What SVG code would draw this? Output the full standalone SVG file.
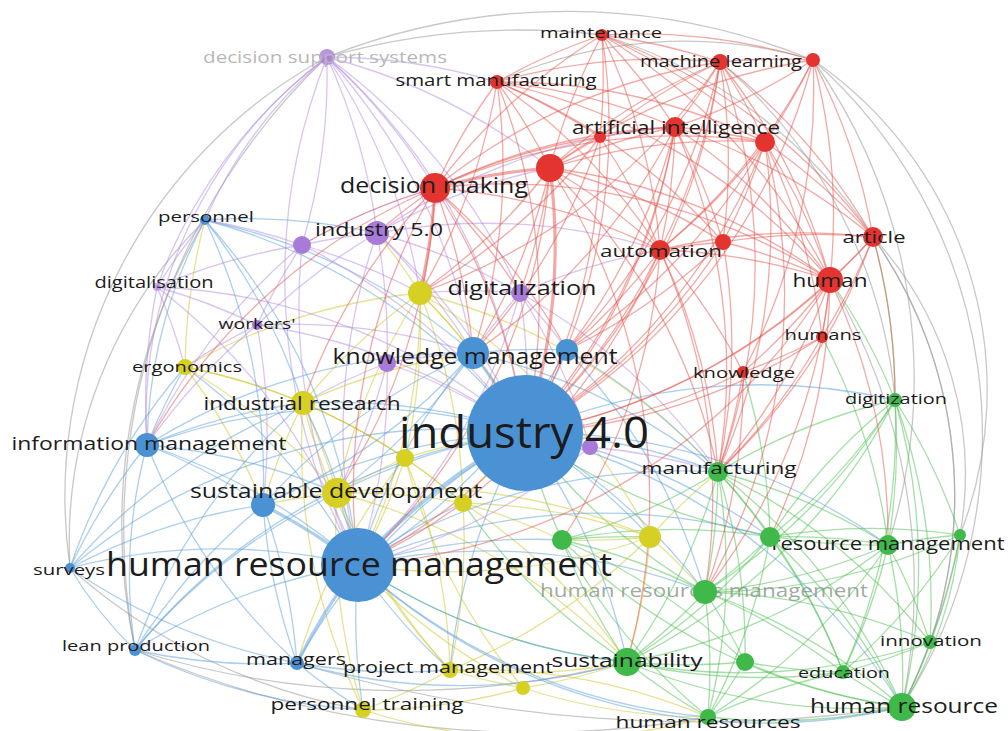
<svg xmlns="http://www.w3.org/2000/svg" width="1008" height="731" viewBox="0 0 1008 731">
<style>
  .edges g{fill:none;stroke-width:1.3;stroke-linecap:round}
  .r{stroke:#e5534b;stroke-opacity:.5}
  .p{stroke:#b48be0;stroke-opacity:.5}
  .b{stroke:#5aa0dc;stroke-opacity:.5}
  .y{stroke:#d3cb3a;stroke-opacity:.55}
  .g{stroke:#4cc050;stroke-opacity:.5}
  .a{stroke:#9a9a9a;stroke-opacity:.55}
  .thick{stroke-width:3.2}
  .nr{fill:#e3342f}
  .np{fill:#a97bd8}
  .nb{fill:#4b92d4}
  .ny{fill:#d6d024}
  .ng{fill:#3fb94a}
  text{font-family:"Open Sans","Noto Sans","Liberation Sans",sans-serif;fill:#1c1c1c;text-anchor:middle;dominant-baseline:central}
  .faint{fill:#b8b8b8}
  .dim{fill:#7d9180;fill-opacity:.75}
</style>
<rect width="1008" height="731" fill="#fff"/>
<g class="edges" id="connectors">
 <g class="a">
  <path d="M327 57A650 650 0 0 1 813 60"/>
  <path d="M497 82A450 450 0 0 1 813 60"/>
  <path d="M602 35A500 500 0 0 1 873 237"/>
  <path d="M813 60A400 400 0 0 1 960 535"/>
  <path d="M813 60A500 500 0 0 1 902 707"/>
  <path d="M873 237A450 450 0 0 1 902 707"/>
  <path d="M873 237A350 350 0 0 1 960 535"/>
  <path d="M873 237A450 450 0 0 1 930 642"/>
  <path d="M830 280A600 600 0 0 1 902 707"/>
  <path d="M720 62A500 500 0 0 1 895 400"/>
  <path d="M813 60A550 550 0 0 1 888 545"/>
  <path d="M708 717A1000 1000 0 0 1 135 650"/>
  <path d="M627 662A900 900 0 0 1 135 650"/>
  <path d="M363 710A600 600 0 0 1 70 568"/>
  <path d="M902 707A1400 1400 0 0 1 297 663"/>
  <path d="M135 650A650 650 0 0 1 327 57"/>
  <path d="M70 568A500 500 0 0 1 327 57"/>
  <path d="M70 568A450 450 0 0 1 205 220"/>
  <path d="M135 650A600 600 0 0 1 205 220"/>
  <path d="M327 57A700 700 0 0 1 602 35"/>
  <path d="M960 535A600 600 0 0 1 902 707"/>
 </g>
 <g class="g">
  <path d="M718 472A600 600 0 0 1 770 537"/>
  <path d="M718 472A600 600 0 0 1 888 545"/>
  <path d="M718 472A600 600 0 0 1 705 592"/>
  <path d="M718 472A600 600 0 0 1 627 662"/>
  <path d="M718 472A600 600 0 0 1 895 400"/>
  <path d="M718 472A600 600 0 0 1 562 540"/>
  <path d="M718 472A600 600 0 0 1 745 662"/>
  <path d="M718 472A600 600 0 0 1 902 707"/>
  <path d="M718 472A600 600 0 0 1 930 642"/>
  <path d="M718 472A600 600 0 0 1 843 672"/>
  <path d="M770 537A600 600 0 0 1 888 545"/>
  <path d="M770 537A600 600 0 0 1 705 592"/>
  <path d="M770 537A600 600 0 0 1 627 662"/>
  <path d="M770 537A600 600 0 0 1 902 707"/>
  <path d="M770 537A600 600 0 0 1 843 672"/>
  <path d="M770 537A600 600 0 0 1 960 535"/>
  <path d="M770 537A600 600 0 0 1 895 400"/>
  <path d="M770 537A600 600 0 0 1 708 717"/>
  <path d="M888 545A600 600 0 0 1 960 535"/>
  <path d="M888 545A600 600 0 0 1 930 642"/>
  <path d="M888 545A600 600 0 0 1 902 707"/>
  <path d="M895 400A600 600 0 0 1 888 545"/>
  <path d="M888 545A600 600 0 0 1 705 592"/>
  <path d="M888 545A600 600 0 0 1 843 672"/>
  <path d="M888 545A600 600 0 0 1 627 662"/>
  <path d="M888 545A600 600 0 0 1 708 717"/>
  <path d="M960 535A600 600 0 0 1 930 642"/>
  <path d="M960 535A400 400 0 0 1 902 707"/>
  <path d="M895 400A600 600 0 0 1 960 535"/>
  <path d="M960 535A600 600 0 0 1 705 592"/>
  <path d="M960 535A600 600 0 0 1 843 672"/>
  <path d="M705 592A600 600 0 0 1 627 662"/>
  <path d="M705 592A600 600 0 0 1 745 662"/>
  <path d="M705 592A600 600 0 0 1 843 672"/>
  <path d="M705 592A600 600 0 0 1 902 707"/>
  <path d="M705 592A600 600 0 0 1 708 717"/>
  <path d="M562 540A600 600 0 0 1 705 592"/>
  <path d="M705 592A600 600 0 0 1 930 642"/>
  <path d="M745 662A600 600 0 0 1 627 662"/>
  <path d="M708 717A600 600 0 0 1 627 662"/>
  <path d="M627 662A600 600 0 0 1 562 540"/>
  <path d="M902 707A600 600 0 0 1 627 662"/>
  <path d="M843 672A600 600 0 0 1 627 662"/>
  <path d="M930 642A600 600 0 0 1 627 662"/>
  <path d="M843 672A600 600 0 0 1 745 662"/>
  <path d="M902 707A600 600 0 0 1 745 662"/>
  <path d="M745 662A600 600 0 0 1 708 717"/>
  <path d="M930 642A600 600 0 0 1 843 672"/>
  <path d="M902 707A600 600 0 0 1 843 672"/>
  <path d="M930 642A600 600 0 0 1 902 707"/>
  <path d="M895 400A600 600 0 0 1 930 642"/>
  <path d="M902 707A600 600 0 0 1 708 717"/>
  <path d="M830 280A600 600 0 0 1 895 400"/>
  <path d="M873 237A600 600 0 0 1 895 400"/>
  <path d="M562 540A600 600 0 0 1 770 537"/>
  <path d="M708 717A600 600 0 0 1 562 540"/>
  <path d="M895 400A600 600 0 0 1 705 592"/>
  <path d="M895 400A600 600 0 0 1 902 707"/>
  <path d="M902 707A600 600 0 0 1 562 540"/>
  <path d="M895 400A600 600 0 0 1 627 662"/>
  <path d="M562 540A600 600 0 0 1 525 433"/>
  <path d="M822 337A600 600 0 0 1 888 545"/>
  <path d="M743 372A600 600 0 0 1 770 537"/>
  <path d="M562 540A600 600 0 0 1 745 662"/>
  <path d="M708 717A600 600 0 0 1 843 672"/>
  <path d="M895 400A600 600 0 0 1 770 537"/>
  <path d="M627 662A600 600 0 0 1 463 503"/>
  <path d="M705 592A600 600 0 0 1 525 433"/>
  <path d="M718 472A600 600 0 0 1 708 717"/>
  <path d="M888 545A600 600 0 0 1 525 433"/>
  <path d="M562 540A600 600 0 0 1 650 537"/>
  <path d="M627 662A600 600 0 0 1 358 565"/>
  <path d="M895 400A600 600 0 0 1 843 672"/>
 </g>
 <g class="y">
  <path d="M420 293A600 600 0 0 1 473 353"/>
  <path d="M303 403A600 600 0 0 1 420 293"/>
  <path d="M337 493A600 600 0 0 1 420 293"/>
  <path d="M420 293A600 600 0 0 1 525 433"/>
  <path d="M185 367A600 600 0 0 1 420 293"/>
  <path d="M420 293A600 600 0 0 1 405 458"/>
  <path d="M420 293A600 600 0 0 1 358 565"/>
  <path d="M185 367A600 600 0 0 1 303 403"/>
  <path d="M185 367A600 600 0 0 1 337 493"/>
  <path d="M303 403A600 600 0 0 1 337 493"/>
  <path d="M303 403A600 600 0 0 1 405 458"/>
  <path d="M303 403A600 600 0 0 1 473 353"/>
  <path d="M303 403A600 600 0 0 1 463 503"/>
  <path d="M337 493A600 600 0 0 1 405 458"/>
  <path d="M405 458A600 600 0 0 1 525 433"/>
  <path d="M405 458A600 600 0 0 1 358 565"/>
  <path d="M337 493A600 600 0 0 1 463 503"/>
  <path d="M450 670A600 600 0 0 1 337 493"/>
  <path d="M363 710A600 600 0 0 1 337 493"/>
  <path d="M337 493A600 600 0 0 1 650 537"/>
  <path d="M463 503A600 600 0 0 1 525 433"/>
  <path d="M463 503A600 600 0 0 1 650 537"/>
  <path d="M463 503A600 600 0 0 1 627 662"/>
  <path d="M463 503A600 600 0 0 1 450 670"/>
  <path d="M650 537A600 600 0 0 1 705 592"/>
  <path d="M650 537A600 600 0 0 1 627 662"/>
  <path d="M650 537A600 600 0 0 1 450 670"/>
  <path d="M650 537A600 600 0 0 1 718 472"/>
  <path d="M450 670A600 600 0 0 1 363 710"/>
  <path d="M627 662A600 600 0 0 1 450 670"/>
  <path d="M523 688A600 600 0 0 1 450 670"/>
  <path d="M627 662A600 600 0 0 1 523 688"/>
  <path d="M708 717A600 600 0 0 1 523 688"/>
  <path d="M708 717A600 600 0 0 1 363 710"/>
  <path d="M523 688A600 600 0 0 1 363 710"/>
  <path d="M523 688A600 600 0 0 1 358 565"/>
  <path d="M363 710A600 600 0 0 1 303 403"/>
  <path d="M450 670A600 600 0 0 1 303 403"/>
  <path d="M650 537A600 600 0 0 1 358 565"/>
  <path d="M185 367A600 600 0 0 1 205 220"/>
  <path d="M377 233A600 600 0 0 1 420 293"/>
  <path d="M420 293A600 600 0 0 1 650 537"/>
  <path d="M405 458A600 600 0 0 1 450 670"/>
  <path d="M463 503A600 600 0 0 1 562 540"/>
  <path d="M523 688A600 600 0 0 1 405 458"/>
  <path d="M297 663A600 600 0 0 1 405 458"/>
  <path d="M420 293A600 600 0 0 1 463 503"/>
  <path d="M405 458A600 600 0 0 1 463 503"/>
  <path d="M263 505A600 600 0 0 1 337 493"/>
  <path d="M263 505A600 600 0 0 1 303 403"/>
  <path d="M185 367A600 600 0 0 1 263 505"/>
  <path d="M450 670A600 600 0 0 1 708 717"/>
  <path d="M650 537A600 600 0 0 1 562 540"/>
  <path d="M420 293A600 600 0 0 1 718 472"/>
  <path d="M337 493A600 600 0 0 1 627 662"/>
  <path d="M185 367A600 600 0 0 1 405 458"/>
 </g>
 <g class="b">
  <path d="M358 565A600 600 0 0 1 525 433" stroke-width="4"/>
  <path class="thick" d="M473 353A600 600 0 0 1 525 433"/>
  <path d="M567 350A600 600 0 0 1 525 433"/>
  <path d="M147 445A600 600 0 0 1 525 433"/>
  <path d="M263 505A600 600 0 0 1 525 433"/>
  <path d="M525 433A600 600 0 0 1 718 472"/>
  <path d="M525 433A600 600 0 0 1 705 592"/>
  <path d="M337 493A600 600 0 0 1 525 433"/>
  <path d="M303 403A600 600 0 0 1 525 433"/>
  <path d="M525 433A600 600 0 0 1 627 662"/>
  <path d="M525 433A600 600 0 0 1 888 545"/>
  <path d="M525 433A600 600 0 0 1 895 400"/>
  <path d="M297 663A600 600 0 0 1 525 433"/>
  <path d="M525 433A600 600 0 0 1 650 537"/>
  <path d="M525 433A600 600 0 0 1 770 537"/>
  <path d="M525 433A600 600 0 0 1 902 707"/>
  <path d="M205 220A600 600 0 0 1 525 433"/>
  <path d="M450 670A600 600 0 0 1 525 433"/>
  <path d="M70 568A600 600 0 0 1 525 433"/>
  <path d="M135 650A600 600 0 0 1 525 433"/>
  <path d="M358 565A600 600 0 0 1 473 353"/>
  <path d="M147 445A600 600 0 0 1 358 565"/>
  <path class="thick" d="M263 505A600 600 0 0 1 358 565"/>
  <path d="M70 568A600 600 0 0 1 358 565"/>
  <path d="M135 650A600 600 0 0 1 358 565"/>
  <path class="thick" d="M297 663A600 600 0 0 1 358 565"/>
  <path d="M337 493A600 600 0 0 1 358 565"/>
  <path d="M303 403A600 600 0 0 1 358 565"/>
  <path d="M358 565A600 600 0 0 1 705 592"/>
  <path d="M627 662A600 600 0 0 1 358 565"/>
  <path d="M450 670A600 600 0 0 1 358 565"/>
  <path d="M363 710A600 600 0 0 1 358 565"/>
  <path d="M358 565A600 600 0 0 1 770 537"/>
  <path d="M902 707A600 600 0 0 1 358 565"/>
  <path d="M185 367A600 600 0 0 1 358 565"/>
  <path d="M205 220A600 600 0 0 1 358 565"/>
  <path d="M358 565A600 600 0 0 1 562 540"/>
  <path d="M358 565A600 600 0 0 1 718 472"/>
  <path d="M358 565A600 600 0 0 1 463 503"/>
  <path d="M708 717A600 600 0 0 1 358 565"/>
  <path d="M147 445A500 500 0 0 1 205 220"/>
  <path d="M205 220A600 600 0 0 1 473 353"/>
  <path d="M147 445A600 600 0 0 1 263 505"/>
  <path d="M70 568A600 600 0 0 1 147 445"/>
  <path d="M147 445A600 600 0 0 1 303 403"/>
  <path d="M135 650A500 500 0 0 1 147 445"/>
  <path d="M147 445A600 600 0 0 1 185 367"/>
  <path d="M297 663A600 600 0 0 1 147 445"/>
  <path d="M70 568A600 600 0 0 1 263 505"/>
  <path d="M135 650A600 600 0 0 1 263 505"/>
  <path d="M297 663A600 600 0 0 1 263 505"/>
  <path d="M135 650A400 400 0 0 1 70 568"/>
  <path d="M297 663A600 600 0 0 1 70 568"/>
  <path d="M297 663A600 600 0 0 1 135 650"/>
  <path d="M363 710A600 600 0 0 1 135 650"/>
  <path d="M363 710A600 600 0 0 1 297 663"/>
  <path d="M450 670A600 600 0 0 1 297 663"/>
  <path d="M627 662A600 600 0 0 1 297 663"/>
  <path d="M473 353A600 600 0 0 1 567 350"/>
  <path d="M567 350A600 600 0 0 1 358 565"/>
  <path d="M147 445A600 600 0 0 1 473 353"/>
  <path d="M205 220A600 600 0 0 1 377 233"/>
  <path d="M205 220A600 600 0 0 1 263 505"/>
  <path d="M70 568A600 600 0 0 1 185 367"/>
  <path d="M135 650A600 600 0 0 1 303 403"/>
  <path d="M263 505A600 600 0 0 1 473 353"/>
  <path d="M263 505A600 600 0 0 1 297 663"/>
  <path d="M473 353A600 600 0 0 1 718 472"/>
  <path d="M567 350A600 600 0 0 1 718 472"/>
  <path d="M473 353A600 600 0 0 1 337 493"/>
  <path d="M567 350A600 600 0 0 1 705 592"/>
  <path d="M147 445A600 600 0 0 1 337 493"/>
  <path d="M205 220A600 600 0 0 1 303 403"/>
  <path d="M473 353A600 600 0 0 1 263 505"/>
  <path d="M70 568A600 600 0 0 1 303 403"/>
  <path d="M135 650A600 600 0 0 1 337 493"/>
 </g>
 <g class="p">
  <path d="M327 57A600 600 0 0 1 435 188"/>
  <path d="M327 57A600 600 0 0 1 377 233"/>
  <path d="M327 57A600 600 0 0 1 302 245"/>
  <path d="M205 220A450 450 0 0 1 327 57"/>
  <path d="M147 445A450 450 0 0 1 327 57"/>
  <path d="M157 287A500 500 0 0 1 327 57"/>
  <path d="M327 57A600 600 0 0 1 420 293"/>
  <path d="M327 57A600 600 0 0 1 525 433"/>
  <path d="M327 57A600 600 0 0 1 473 353"/>
  <path d="M327 57A600 600 0 0 1 497 82"/>
  <path d="M327 57A600 600 0 0 1 550 168"/>
  <path d="M358 565A600 600 0 0 1 327 57"/>
  <path d="M327 57A600 600 0 0 1 520 293"/>
  <path d="M302 245A600 600 0 0 1 377 233"/>
  <path d="M377 233A600 600 0 0 1 525 433"/>
  <path d="M377 233A600 600 0 0 1 473 353"/>
  <path d="M377 233A600 600 0 0 1 520 293"/>
  <path d="M358 565A600 600 0 0 1 377 233"/>
  <path d="M377 233A600 600 0 0 1 550 168"/>
  <path d="M377 233A600 600 0 0 1 660 250"/>
  <path d="M377 233A600 600 0 0 1 387 363"/>
  <path d="M377 233A600 600 0 0 1 675 127"/>
  <path d="M205 220A600 600 0 0 1 302 245"/>
  <path d="M157 287A600 600 0 0 1 302 245"/>
  <path d="M147 445A600 600 0 0 1 302 245"/>
  <path d="M302 245A600 600 0 0 1 525 433"/>
  <path d="M302 245A600 600 0 0 1 420 293"/>
  <path d="M358 565A600 600 0 0 1 302 245"/>
  <path d="M520 293A600 600 0 0 1 525 433"/>
  <path d="M473 353A600 600 0 0 1 520 293"/>
  <path d="M520 293A600 600 0 0 1 660 250"/>
  <path d="M420 293A600 600 0 0 1 520 293"/>
  <path d="M520 293A600 600 0 0 1 718 472"/>
  <path d="M520 293A600 600 0 0 1 567 350"/>
  <path d="M520 293A600 600 0 0 1 358 565"/>
  <path d="M157 287A600 600 0 0 1 257 325"/>
  <path d="M147 445A600 600 0 0 1 257 325"/>
  <path d="M257 325A600 600 0 0 1 525 433"/>
  <path d="M257 325A600 600 0 0 1 302 245"/>
  <path d="M185 367A600 600 0 0 1 257 325"/>
  <path d="M257 325A600 600 0 0 1 377 233"/>
  <path d="M157 287A600 600 0 0 1 205 220"/>
  <path d="M147 445A600 600 0 0 1 157 287"/>
  <path d="M157 287A600 600 0 0 1 185 367"/>
  <path d="M157 287A600 600 0 0 1 358 565"/>
  <path d="M387 363A600 600 0 0 1 525 433"/>
  <path d="M387 363A600 600 0 0 1 473 353"/>
  <path d="M303 403A600 600 0 0 1 387 363"/>
  <path d="M387 363A600 600 0 0 1 358 565"/>
  <path d="M525 433A600 600 0 0 1 590 447"/>
  <path d="M590 447A600 600 0 0 1 718 472"/>
  <path d="M590 447A600 600 0 0 1 358 565"/>
  <path d="M520 293A600 600 0 0 1 590 447"/>
  <path d="M157 287A600 600 0 0 1 525 433"/>
  <path d="M257 325A600 600 0 0 1 473 353"/>
  <path d="M302 245A600 600 0 0 1 435 188"/>
  <path d="M257 325A600 600 0 0 1 263 505"/>
  <path d="M387 363A600 600 0 0 1 337 493"/>
 </g>
 <g class="r">
  <path d="M497 82A600 600 0 0 1 602 35"/>
  <path d="M602 35A600 600 0 0 1 720 62"/>
  <path d="M602 35A600 600 0 0 1 813 60"/>
  <path d="M602 35A600 600 0 0 1 675 127"/>
  <path d="M602 35A600 600 0 0 1 600 137"/>
  <path d="M602 35A600 600 0 0 1 765 142"/>
  <path d="M550 168A600 600 0 0 1 602 35"/>
  <path d="M435 188A600 600 0 0 1 602 35"/>
  <path d="M602 35A600 600 0 0 1 660 250"/>
  <path d="M602 35A600 600 0 0 1 873 237"/>
  <path d="M602 35A600 600 0 0 1 830 280"/>
  <path d="M497 82A600 600 0 0 1 720 62"/>
  <path d="M497 82A600 600 0 0 1 675 127"/>
  <path d="M497 82A600 600 0 0 1 600 137"/>
  <path d="M497 82A600 600 0 0 1 765 142"/>
  <path d="M497 82A600 600 0 0 1 550 168"/>
  <path d="M435 188A600 600 0 0 1 497 82"/>
  <path d="M497 82A600 600 0 0 1 660 250"/>
  <path d="M497 82A600 600 0 0 1 723 242"/>
  <path d="M497 82A600 600 0 0 1 830 280"/>
  <path d="M497 82A600 600 0 0 1 525 433"/>
  <path d="M720 62A600 600 0 0 1 813 60"/>
  <path d="M720 62A600 600 0 0 1 675 127"/>
  <path d="M600 137A600 600 0 0 1 720 62"/>
  <path d="M720 62A600 600 0 0 1 765 142"/>
  <path d="M550 168A600 600 0 0 1 720 62"/>
  <path d="M435 188A600 600 0 0 1 720 62"/>
  <path d="M720 62A600 600 0 0 1 660 250"/>
  <path d="M720 62A600 600 0 0 1 723 242"/>
  <path d="M720 62A600 600 0 0 1 873 237"/>
  <path d="M720 62A600 600 0 0 1 830 280"/>
  <path d="M720 62A600 600 0 0 1 525 433"/>
  <path d="M813 60A600 600 0 0 1 675 127"/>
  <path d="M813 60A600 600 0 0 1 765 142"/>
  <path d="M550 168A600 600 0 0 1 813 60"/>
  <path d="M813 60A600 600 0 0 1 660 250"/>
  <path d="M813 60A600 600 0 0 1 873 237"/>
  <path d="M813 60A600 600 0 0 1 830 280"/>
  <path d="M813 60A600 600 0 0 1 525 433"/>
  <path d="M600 137A600 600 0 0 1 675 127"/>
  <path d="M675 127A600 600 0 0 1 765 142"/>
  <path d="M550 168A600 600 0 0 1 675 127"/>
  <path d="M435 188A600 600 0 0 1 675 127"/>
  <path d="M675 127A600 600 0 0 1 660 250"/>
  <path d="M675 127A600 600 0 0 1 723 242"/>
  <path d="M675 127A600 600 0 0 1 873 237"/>
  <path d="M675 127A600 600 0 0 1 830 280"/>
  <path d="M675 127A600 600 0 0 1 525 433"/>
  <path d="M675 127A600 600 0 0 1 473 353"/>
  <path d="M550 168A600 600 0 0 1 600 137"/>
  <path d="M435 188A600 600 0 0 1 600 137"/>
  <path d="M600 137A600 600 0 0 1 660 250"/>
  <path d="M600 137A600 600 0 0 1 525 433"/>
  <path d="M550 168A600 600 0 0 1 765 142"/>
  <path d="M435 188A600 600 0 0 1 765 142"/>
  <path d="M765 142A600 600 0 0 1 660 250"/>
  <path d="M765 142A600 600 0 0 1 723 242"/>
  <path d="M765 142A600 600 0 0 1 873 237"/>
  <path d="M765 142A600 600 0 0 1 830 280"/>
  <path d="M765 142A600 600 0 0 1 525 433"/>
  <path d="M765 142A600 600 0 0 1 822 337"/>
  <path class="thick" d="M435 188A600 600 0 0 1 550 168"/>
  <path d="M550 168A600 600 0 0 1 660 250"/>
  <path d="M550 168A600 600 0 0 1 723 242"/>
  <path d="M550 168A600 600 0 0 1 830 280"/>
  <path class="thick" d="M550 168A600 600 0 0 1 525 433"/>
  <path d="M550 168A600 600 0 0 1 473 353"/>
  <path d="M550 168A600 600 0 0 1 420 293"/>
  <path d="M550 168A600 600 0 0 1 520 293"/>
  <path d="M550 168A600 600 0 0 1 718 472"/>
  <path class="thick" d="M435 188A600 600 0 0 1 420 293"/>
  <path d="M377 233A600 600 0 0 1 435 188"/>
  <path d="M435 188A600 600 0 0 1 525 433"/>
  <path d="M435 188A600 600 0 0 1 473 353"/>
  <path d="M435 188A600 600 0 0 1 660 250"/>
  <path d="M435 188A600 600 0 0 1 830 280"/>
  <path d="M358 565A600 600 0 0 1 435 188"/>
  <path d="M302 245A600 600 0 0 1 435 188"/>
  <path d="M303 403A600 600 0 0 1 435 188"/>
  <path d="M660 250A600 600 0 0 1 723 242"/>
  <path d="M660 250A600 600 0 0 1 830 280"/>
  <path d="M660 250A600 600 0 0 1 525 433"/>
  <path d="M660 250A600 600 0 0 1 743 372"/>
  <path d="M660 250A600 600 0 0 1 718 472"/>
  <path d="M660 250A600 600 0 0 1 873 237"/>
  <path d="M660 250A600 600 0 0 1 567 350"/>
  <path d="M723 242A600 600 0 0 1 830 280"/>
  <path d="M723 242A600 600 0 0 1 873 237"/>
  <path d="M873 237A600 600 0 0 1 830 280"/>
  <path d="M873 237A600 600 0 0 1 822 337"/>
  <path d="M873 237A600 600 0 0 1 525 433"/>
  <path d="M830 280A600 600 0 0 1 822 337"/>
  <path d="M830 280A600 600 0 0 1 743 372"/>
  <path d="M830 280A600 600 0 0 1 525 433"/>
  <path d="M830 280A600 600 0 0 1 718 472"/>
  <path d="M822 337A600 600 0 0 1 743 372"/>
  <path d="M822 337A600 600 0 0 1 525 433"/>
  <path d="M743 372A600 600 0 0 1 525 433"/>
  <path d="M743 372A600 600 0 0 1 718 472"/>
  <path d="M723 242A600 600 0 0 1 525 433"/>
  <path d="M660 250A600 600 0 0 1 358 565"/>
  <path d="M830 280A600 600 0 0 1 358 565"/>
  <path d="M675 127A600 600 0 0 1 358 565"/>
  <path d="M765 142A600 600 0 0 1 705 592"/>
  <path d="M830 280A600 600 0 0 1 888 545"/>
  <path d="M873 237A600 600 0 0 1 895 400"/>
  <path d="M720 62A600 600 0 0 1 420 293"/>
  <path d="M813 60A600 600 0 0 1 743 372"/>
  <path d="M600 137A600 600 0 0 1 473 353"/>
  <path d="M435 188A600 600 0 0 1 520 293"/>
  <path d="M723 242A600 600 0 0 1 718 472"/>
  <path d="M765 142A600 600 0 0 1 567 350"/>
  <path d="M497 82A600 600 0 0 1 420 293"/>
  <path d="M675 127A600 600 0 0 1 718 472"/>
  <path d="M720 62A600 600 0 0 1 718 472"/>
  <path d="M765 142A600 600 0 0 1 718 472"/>
  <path d="M660 250A600 600 0 0 1 705 592"/>
  <path d="M830 280A600 600 0 0 1 705 592"/>
  <path d="M550 168A600 600 0 0 1 358 565"/>
  <path d="M435 188A600 600 0 0 1 337 493"/>
  <path d="M147 445A600 600 0 0 1 435 188"/>
  <path d="M600 137A600 600 0 0 1 420 293"/>
  <path d="M723 242A600 600 0 0 1 567 350"/>
  <path d="M873 237A600 600 0 0 1 718 472"/>
  <path d="M830 280A600 600 0 0 1 770 537"/>
  <path d="M822 337A600 600 0 0 1 718 472"/>
  <path d="M743 372A600 600 0 0 1 705 592"/>
  <path d="M660 250A600 600 0 0 1 562 540"/>
  <path d="M675 127A600 600 0 0 1 567 350"/>
  <path d="M720 62A600 600 0 0 1 567 350"/>
  <path d="M435 188A600 600 0 0 1 567 350"/>
  <path d="M497 82A600 600 0 0 1 473 353"/>
  <path d="M602 35A600 600 0 0 1 525 433"/>
  <path d="M550 168A600 600 0 0 1 627 662"/>
 </g>
</g>

<!-- small unlabeled nodes first so bigger labels sit on top -->
<g id="n-r4"><circle class="nr" cx="813" cy="60" r="7"/></g>
<g id="n-r6"><circle class="nr" cx="600" cy="137" r="6"/></g>
<g id="n-r7"><circle class="nr" cx="765" cy="142" r="10"/></g>
<g id="n-r8"><circle class="nr" cx="550" cy="168" r="14"/></g>
<g id="n-r11"><circle class="nr" cx="723" cy="242" r="8"/></g>
<g id="n-p3"><circle class="np" cx="302" cy="245" r="9"/></g>
<g id="n-p7"><circle class="np" cx="387" cy="363" r="9"/></g>
<g id="n-p8"><circle class="np" cx="590" cy="447" r="8"/></g>
<g id="n-b4"><circle class="nb" cx="567" cy="350" r="11"/></g>
<g id="n-b7"><circle class="nb" cx="263" cy="505" r="12"/></g>
<g id="n-y1"><circle class="ny" cx="420" cy="293" r="12"/></g>
<g id="n-y4"><circle class="ny" cx="405" cy="458" r="9"/></g>
<g id="n-y6"><circle class="ny" cx="463" cy="503" r="9"/></g>
<g id="n-y7"><circle class="ny" cx="650" cy="537" r="11"/></g>
<g id="n-y10"><circle class="ny" cx="523" cy="688" r="7"/></g>
<g id="n-g4"><circle class="ng" cx="960" cy="535" r="6"/></g>
<g id="n-g7"><circle class="ng" cx="745" cy="662" r="9"/></g>
<g id="n-g12"><circle class="ng" cx="562" cy="540" r="10"/></g>

<!-- labelled nodes -->
<g id="n-decision-support-systems"><circle class="np" cx="327" cy="57" r="8" fill-opacity=".8"/><text class="faint" x="325" y="56" font-size="17" textLength="244" lengthAdjust="spacingAndGlyphs">decision support systems</text></g>
<g id="n-maintenance"><circle class="nr" cx="602" cy="35" r="6"/><text x="601" y="32" font-size="15" textLength="122" lengthAdjust="spacingAndGlyphs">maintenance</text></g>
<g id="n-smart-manufacturing"><circle class="nr" cx="497" cy="82" r="7"/><text x="496" y="80" font-size="16" textLength="201" lengthAdjust="spacingAndGlyphs">smart manufacturing</text></g>
<g id="n-machine-learning"><circle class="nr" cx="720" cy="62" r="8"/><text x="721" y="61" font-size="16" textLength="162" lengthAdjust="spacingAndGlyphs">machine learning</text></g>
<g id="n-artificial-intelligence"><circle class="nr" cx="675" cy="127" r="10"/><text x="676" y="127" font-size="18" textLength="208" lengthAdjust="spacingAndGlyphs">artificial intelligence</text></g>
<g id="n-decision-making"><circle class="nr" cx="435" cy="188" r="15"/><text x="434" y="185" font-size="21" textLength="188" lengthAdjust="spacingAndGlyphs">decision making</text></g>
<g id="n-personnel"><circle class="nb" cx="205" cy="220" r="5"/><text x="206" y="216" font-size="15" textLength="96" lengthAdjust="spacingAndGlyphs">personnel</text></g>
<g id="n-industry-5-0"><circle class="np" cx="377" cy="233" r="12"/><text x="379" y="229" font-size="18" textLength="128" lengthAdjust="spacingAndGlyphs">industry 5.0</text></g>
<g id="n-automation"><circle class="nr" cx="660" cy="250" r="10"/><text x="661" y="250" font-size="17" textLength="122" lengthAdjust="spacingAndGlyphs">automation</text></g>
<g id="n-article"><circle class="nr" cx="873" cy="237" r="10"/><text x="874" y="236" font-size="17" textLength="63" lengthAdjust="spacingAndGlyphs">article</text></g>
<g id="n-human"><circle class="nr" cx="830" cy="280" r="13"/><text x="830" y="280" font-size="18" textLength="75" lengthAdjust="spacingAndGlyphs">human</text></g>
<g id="n-digitalisation"><circle class="np" cx="157" cy="287" r="4" fill-opacity=".6"/><text x="154" y="282" font-size="16" textLength="119" lengthAdjust="spacingAndGlyphs">digitalisation</text></g>
<g id="n-digitalization"><circle class="np" cx="520" cy="293" r="9"/><text x="522" y="287" font-size="20" textLength="149" lengthAdjust="spacingAndGlyphs">digitalization</text></g>
<g id="n-workers"><circle class="np" cx="257" cy="325" r="5"/><text x="257" y="323" font-size="15" textLength="77" lengthAdjust="spacingAndGlyphs">workers'</text></g>
<g id="n-humans"><circle class="nr" cx="822" cy="337" r="6"/><text x="823" y="334" font-size="14" textLength="77" lengthAdjust="spacingAndGlyphs">humans</text></g>
<g id="n-knowledge-management"><circle class="nb" cx="473" cy="353" r="16"/><text x="475" y="356" font-size="21" textLength="285" lengthAdjust="spacingAndGlyphs">knowledge management</text></g>
<g id="n-ergonomics"><circle class="ny" cx="185" cy="367" r="8"/><text x="187" y="366" font-size="14" textLength="110" lengthAdjust="spacingAndGlyphs">ergonomics</text></g>
<g id="n-knowledge"><circle class="nr" cx="743" cy="372" r="6"/><text x="744" y="372" font-size="14" textLength="102" lengthAdjust="spacingAndGlyphs">knowledge</text></g>
<g id="n-industrial-research"><circle class="ny" cx="303" cy="403" r="12"/><text x="302" y="403" font-size="19" textLength="197" lengthAdjust="spacingAndGlyphs">industrial research</text></g>
<g id="n-digitization"><circle class="ng" cx="895" cy="400" r="7"/><text x="896" y="398" font-size="14" textLength="102" lengthAdjust="spacingAndGlyphs">digitization</text></g>
<g id="n-industry-4-0"><circle class="nb" cx="525" cy="433" r="58"/><text x="524" y="431" font-size="44" textLength="250" lengthAdjust="spacingAndGlyphs">industry 4.0</text></g>
<g id="n-information-management"><circle class="nb" cx="147" cy="445" r="12"/><text x="149" y="443" font-size="19" textLength="275" lengthAdjust="spacingAndGlyphs">information management</text></g>
<g id="n-manufacturing"><circle class="ng" cx="718" cy="472" r="10"/><text x="719" y="467" font-size="17" textLength="155" lengthAdjust="spacingAndGlyphs">manufacturing</text></g>
<g id="n-sustainable-development"><circle class="ny" cx="337" cy="493" r="15"/><text x="336" y="490" font-size="20" textLength="292" lengthAdjust="spacingAndGlyphs">sustainable development</text></g>
<g id="n-resource-management"><circle class="ng" cx="888" cy="545" r="10"/><text x="888" y="543" font-size="18" textLength="233" lengthAdjust="spacingAndGlyphs">resource management</text></g>
<g id="n-g2"><circle class="ng" cx="770" cy="537" r="10"/></g>
<g id="n-surveys"><circle class="nb" cx="70" cy="568" r="5"/><text x="69" y="569" font-size="14" textLength="72" lengthAdjust="spacingAndGlyphs">surveys</text></g>
<g id="n-human-resource-management"><circle class="nb" cx="358" cy="565" r="37"/><text x="359" y="563" font-size="33" textLength="506" lengthAdjust="spacingAndGlyphs">human resource management</text></g>
<g id="n-human-resources-management"><text class="dim" x="704" y="590" font-size="18" textLength="328" lengthAdjust="spacingAndGlyphs">human resources management</text><circle class="ng" cx="705" cy="592" r="12"/></g>
<g id="n-lean-production"><circle class="nb" cx="135" cy="650" r="6"/><text x="136" y="645" font-size="15" textLength="148" lengthAdjust="spacingAndGlyphs">lean production</text></g>
<g id="n-innovation"><circle class="ng" cx="930" cy="642" r="7"/><text x="931" y="640" font-size="15" textLength="102" lengthAdjust="spacingAndGlyphs">innovation</text></g>
<g id="n-project-management"><circle class="ny" cx="450" cy="670" r="8"/><text x="448" y="666" font-size="17" textLength="210" lengthAdjust="spacingAndGlyphs">project management</text></g>
<g id="n-managers"><circle class="nb" cx="297" cy="663" r="7"/><text x="296" y="658" font-size="17" textLength="100" lengthAdjust="spacingAndGlyphs">managers</text></g>
<g id="n-sustainability"><circle class="ng" cx="627" cy="662" r="14"/><text x="627" y="660" font-size="18" textLength="151" lengthAdjust="spacingAndGlyphs">sustainability</text></g>
<g id="n-education"><circle class="ng" cx="843" cy="672" r="7"/><text x="844" y="672" font-size="15" textLength="92" lengthAdjust="spacingAndGlyphs">education</text></g>
<g id="n-personnel-training"><circle class="ny" cx="363" cy="710" r="8"/><text x="367" y="703" font-size="17" textLength="193" lengthAdjust="spacingAndGlyphs">personnel training</text></g>
<g id="n-human-resource"><circle class="ng" cx="902" cy="707" r="14"/><text x="904" y="705" font-size="20" textLength="188" lengthAdjust="spacingAndGlyphs">human resource</text></g>
<g id="n-human-resources"><circle class="ng" cx="708" cy="717" r="8"/><text x="708" y="721" font-size="17" textLength="185" lengthAdjust="spacingAndGlyphs">human resources</text></g>
</svg>
